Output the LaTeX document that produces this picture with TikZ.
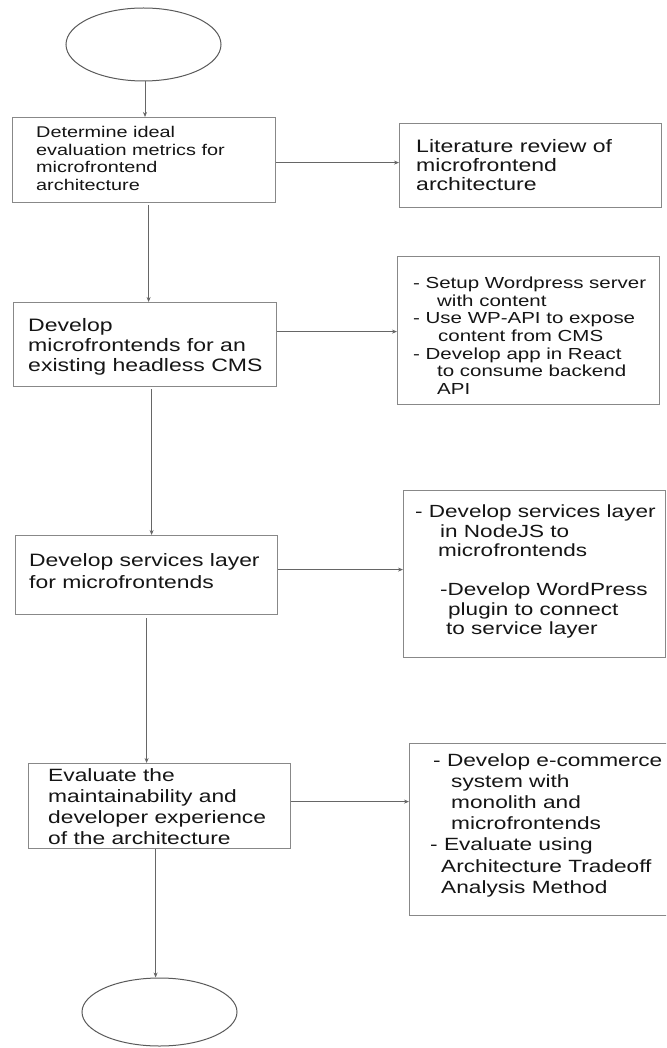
\documentclass[tikz,border=0pt]{standalone}
\usepackage{fontspec}
\setmainfont{Liberation Sans}[FakeStretch=1.28]
\usetikzlibrary{shapes.geometric,arrows.meta}
\definecolor{linegray}{HTML}{666666}
\definecolor{boxgray}{HTML}{888888}
\definecolor{ovalgray}{HTML}{5A5A5A}
\definecolor{ink}{HTML}{151515}
\newcommand{\fs}[2]{\fontsize{#1pt}{#2pt}\selectfont}
\begin{document}
\begin{tikzpicture}[x=1pt,y=-1pt,
  stepbox/.style={draw=boxgray,line width=1.2pt,rectangle,inner sep=0pt,anchor=north west},
  oval/.style={draw=ovalgray,line width=1pt,ellipse,inner sep=0pt},
  txt/.style={inner sep=0pt,anchor=north west,align=left,text=ink},
  arr/.style={draw=linegray,line width=1pt,-{Stealth[length=5pt,width=4pt]}}]
\useasboundingbox (0,0) rectangle (666,1048);
\clip (0,0) rectangle (666,1048);
\fill[white] (0,0) rectangle (666,1048);

% start and end ovals
\node[oval,minimum width=155pt,minimum height=73pt] (e1) at (143.5,44.5) {};
\node[oval,minimum width=155pt,minimum height=68pt] (e2) at (159.5,1012) {};

% process boxes (left column)
\node[stepbox,minimum width=263pt,minimum height=85pt] (b1) at (12,117) {};
\node[stepbox,minimum width=263pt,minimum height=84pt] (b3) at (13,302) {};
\node[stepbox,minimum width=262pt,minimum height=79pt] (b5) at (15,535) {};
\node[stepbox,minimum width=262pt,minimum height=85pt] (b7) at (28,763) {};

% detail boxes (right column)
\node[stepbox,minimum width=262pt,minimum height=84pt] (b2) at (399,123) {};
\node[stepbox,minimum width=262pt,minimum height=148pt] (b4) at (397,256) {};
\node[stepbox,minimum width=262pt,minimum height=167pt] (b6) at (403,490) {};
\node[stepbox,minimum width=262pt,minimum height=172pt] (b8) at (409,743) {};

% box texts
\node[txt,font=\fs{15.5}{17.7}] (t1) at (36,126)
  {Determine ideal\\evaluation metrics for\\microfrontend\\architecture};
\node[txt,font=\fs{18}{19.3}] (t2) at (416,139)
  {Literature review of\\microfrontend\\architecture};
\node[txt,font=\fs{18}{20}] (t3) at (28,318)
  {Develop\\microfrontends for an\\existing headless CMS};
\node[txt,font=\fs{16}{17.6}] (t4) at (413,277)
  {- Setup Wordpress server\\\hspace*{24pt}with content\\- Use WP-API to expose\\\hspace*{25pt}content from CMS\\- Develop app in React\\\hspace*{24pt}to consume backend\\\hspace*{24pt}API};
\node[txt,font=\fs{17.9}{22}] (t5) at (29,553)
  {Develop services layer\\for microfrontends};
\node[txt,font=\fs{17.6}{19.5}] (t6) at (415,505)
  {- Develop services layer\\\hspace*{25pt}in NodeJS to\\\hspace*{23pt}microfrontends\\[19.5pt]\hspace*{25pt}-Develop WordPress\\\hspace*{33pt}plugin to connect\\\hspace*{31pt}to service layer};
\node[txt,font=\fs{17.8}{21.2}] (t7) at (48,768)
  {Evaluate the\\maintainability and\\developer experience\\of the architecture};
\node[txt,font=\fs{17.7}{21.2}] (t8) at (430,753)
  {\hspace*{3pt}- Develop e-commerce\\\hspace*{21pt}system with\\\hspace*{21pt}monolith and\\\hspace*{21pt}microfrontends\\- Evaluate using\\\hspace*{11pt}Architecture Tradeoff\\\hspace*{11pt}Analysis Method};

% main flow
\draw[arr] ([xshift=1.5pt]e1.south) -- ([xshift=1.5pt]e1.south |- b1.north);
\draw[arr] ([xshift=4.5pt,yshift=-2pt]b1.south) -- ([xshift=4.5pt]b1.south |- b3.north);
\draw[arr] ([xshift=6.5pt,yshift=-2pt]b3.south) -- ([xshift=6.5pt]b3.south |- b5.north);
\draw[arr] ([yshift=-3pt]b5.south) -- (b5.south |- b7.north);
\draw[arr] ([xshift=-4pt]b7.south) -- ([xshift=-4pt]b7.south |- e2.north);

% side branches
\draw[arr] ([yshift=-2.5pt]b1.east) -- ([yshift=-2.5pt]b1.east -| b2.west);
\draw[arr] ([yshift=13pt]b3.east) -- ([yshift=13pt]b3.east -| b4.west);
\draw[arr] ([yshift=5.5pt]b5.east) -- ([yshift=5.5pt]b5.east -| b6.west);
\draw[arr] ([yshift=4.5pt]b7.east) -- ([yshift=4.5pt]b7.east -| b8.west);
\end{tikzpicture}
\end{document}
